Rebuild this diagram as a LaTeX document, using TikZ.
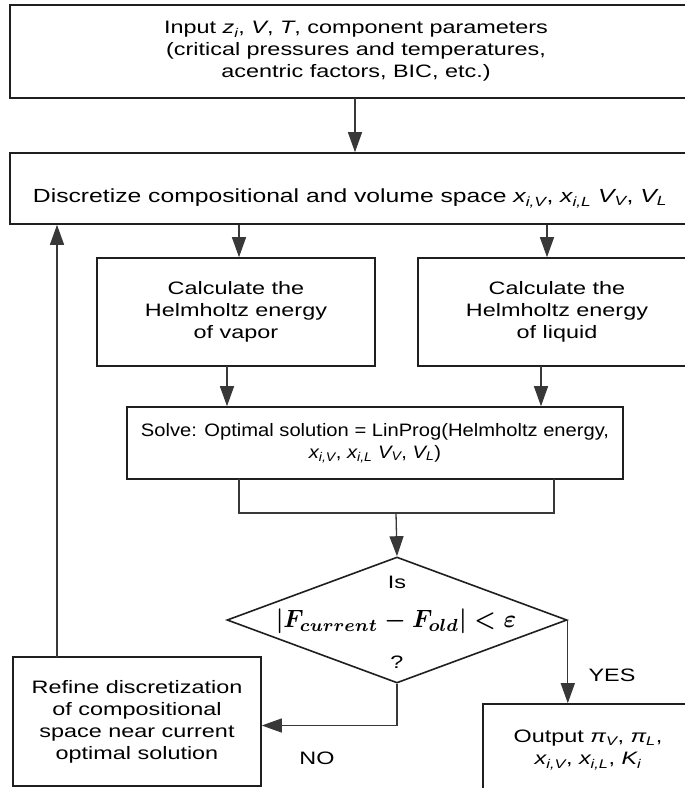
\documentclass[tikz,border=0pt]{standalone}
\usepackage{fontspec}
\usepackage{bm}
\usepackage{graphicx}
\setmainfont{Liberation Sans}[FakeStretch=1.3]
\newfontfamily\solvefont{Liberation Sans}[FakeStretch=1.12]
\usetikzlibrary{arrows.meta,shapes.geometric}
\newcommand\isub[2]{\textit{#1\textsubscript{#2}}}
\begin{document}
\begin{tikzpicture}[x=1pt,y=-1pt,
  box/.style={draw=black!88, line width=1.6pt, align=center, inner sep=0pt,
    font=\fontsize{18}{22}\selectfont},
  conn/.style={draw=black!78, line width=1.3pt},
  arr/.style={conn, -{Triangle[length=20pt,width=14pt]}},
  lbl/.style={font=\fontsize{18}{22}\selectfont, inner sep=0pt}]
\useasboundingbox (0,0) rectangle (685,788);
\clip (0,0) rectangle (685,788);
\fill[white] (0,0) rectangle (685,788);

\node[box, minimum width=692pt, minimum height=93pt] (inp) at (356,51.5)
  {Input \isub{z}{i}, \textit{V}, \textit{T}, component parameters\\
   (critical pressures and temperatures,\\ acentric factors, BIC, etc.)};
\node[box, minimum width=680pt, minimum height=71pt, font=\fontsize{19}{22}\selectfont] (disc) at (350,188.5)
  {\raisebox{-14pt}[0pt][0pt]{Discretize compositional and volume space \isub{x}{i,V}, \isub{x}{i,L} \isub{V}{V}, \isub{V}{L}}};
\node[box, minimum width=278pt, minimum height=108pt] (vap) at (236,312)
  {Calculate the\\ Helmholtz energy\\ of vapor};
\node[box, minimum width=278pt, minimum height=108pt] (liq) at (557,312)
  {Calculate the\\ Helmholtz energy\\ of liquid};
\node[box, minimum width=496pt, minimum height=72pt, font=\solvefont\fontsize{18}{22}\selectfont] (solve) at (375,443)
  {Solve: Optimal solution = LinProg(Helmholtz energy,\\
   \isub{x}{i,V}, \isub{x}{i,L} \isub{V}{V}, \isub{V}{L})};
\node[diamond, draw=black!88, line width=1.6pt, minimum width=340pt, minimum height=126pt,
  inner sep=0pt] (dec) at (397,620) {};
\node[lbl] (dis) at (397,582) {Is};
\node[inner sep=0pt] (dform) at (396,621)
  {\scalebox{2.4}[2.5]{\boldmath$|F_{current}-F_{old}|<\varepsilon$}};
\node[lbl] (dq) at (397,662) {?};
\node[box, minimum width=248pt, minimum height=129pt] (ref) at (137,721.5)
  {Refine discretization\\ of compositional\\ space near current\\ optimal solution};
\node[box, minimum width=210pt, minimum height=92pt] (out) at (588,750)
  {Output \isub{π}{V}, \isub{π}{L},\\ \isub{x}{i,V}, \isub{x}{i,L}, \isub{K}{i}};
\node[lbl] (yes) at (612,675) {YES};
\node[lbl] (no) at (317,758) {NO};

% connectors
\coordinate (i1) at (355,98);
\draw[arr] (i1) -- (i1 |- disc.north);
\coordinate (d1) at (239,224.5);
\coordinate (d2) at (547,224.5);
\draw[arr] (d1) -- (d1 |- vap.north);
\draw[arr] (d2) -- (d2 |- liq.north);
\coordinate (v1) at (227,366);
\coordinate (l1) at (541,366);
\draw[arr] (v1) -- (v1 |- solve.north);
\draw[arr] (l1) -- (l1 |- solve.north);
\coordinate (b1) at (239,479);
\coordinate (b2) at (554,479);
\coordinate (bm) at (396,513);
\draw[conn] (b1) -- (b1 |- bm) -- (b2 |- bm) -- (b2);
\draw[arr] (bm) -- (dec.north);
\draw[arr] (dec.east) -- (dec.east |- out.north);
\draw[arr] (dec.south) |- ([yshift=-4pt]ref.east);
\coordinate (bk) at (57,657);
\draw[arr] (bk) -- (bk |- disc.south);
\end{tikzpicture}
\end{document}
